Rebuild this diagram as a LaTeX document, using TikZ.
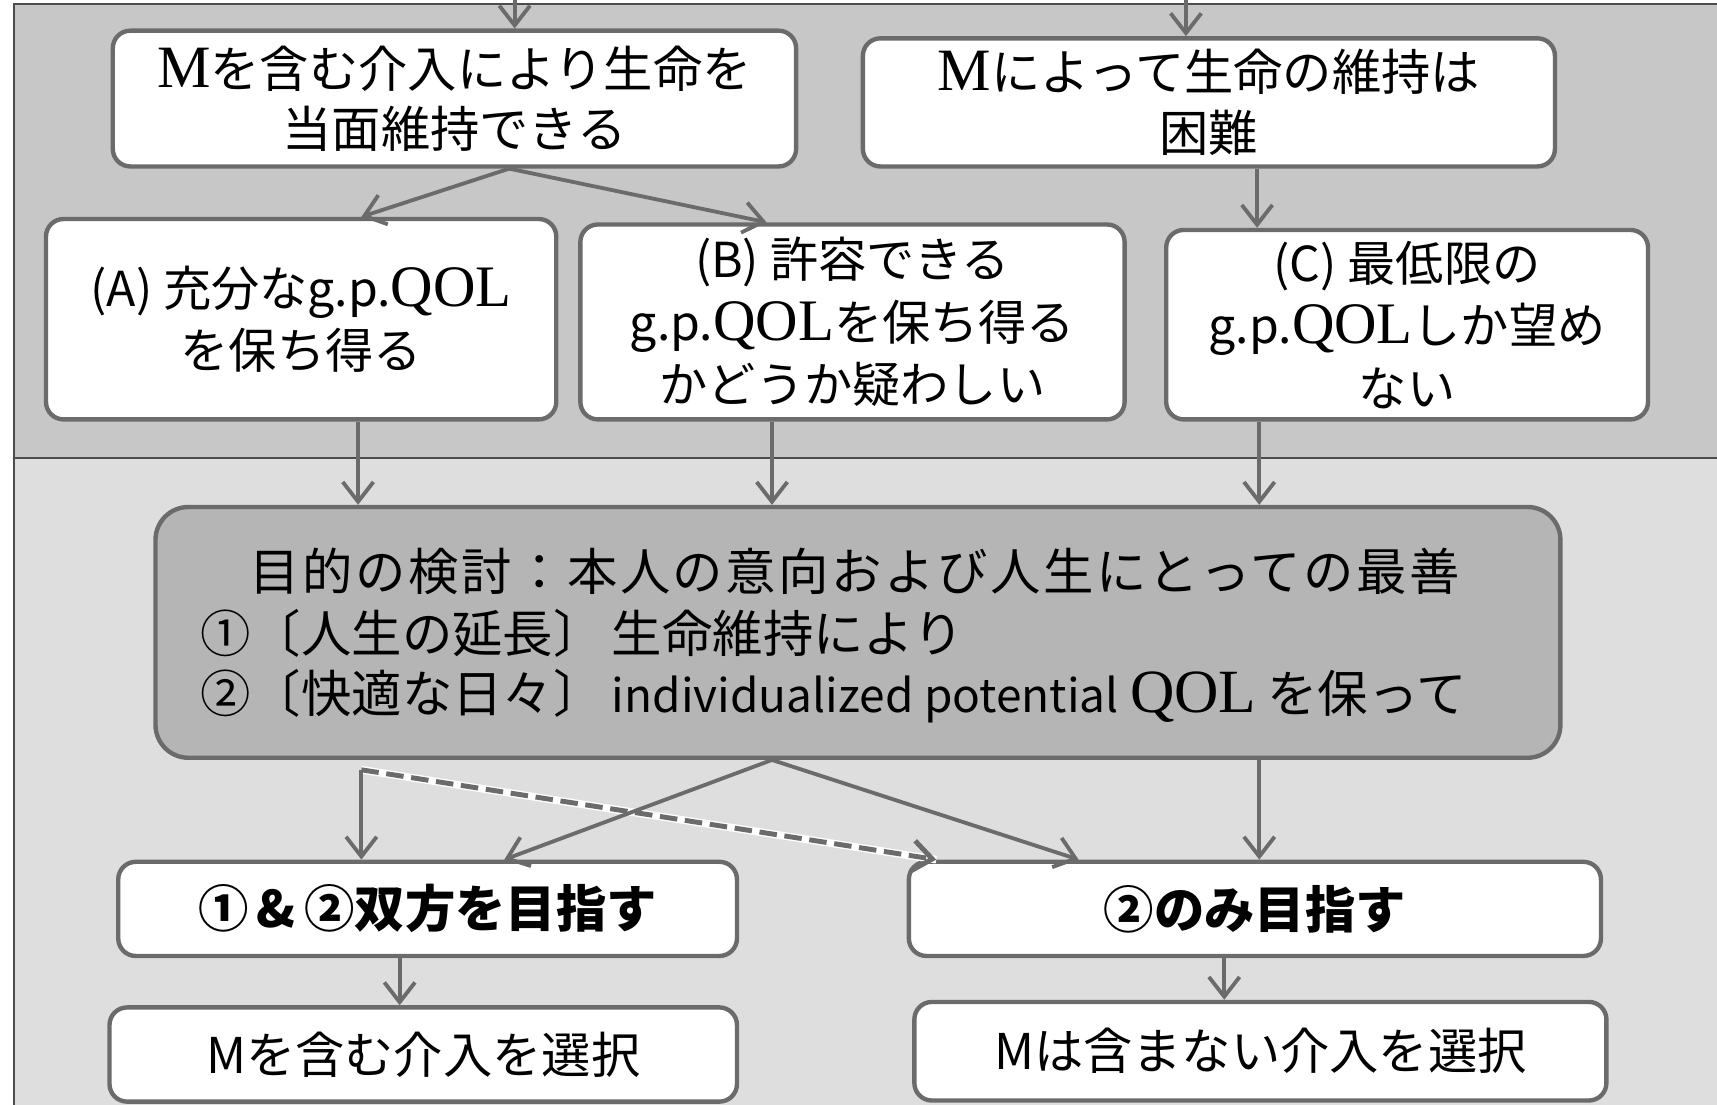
\documentclass[tikz,border=0pt]{standalone}
\usepackage{fontspec}
\setmainfont{Noto Sans CJK JP}
\newfontfamily\serifL[Scale=1.22]{Liberation Serif}
\usetikzlibrary{arrows.meta}
\definecolor{topbg}{gray}{0.78}
\definecolor{lowbg}{gray}{0.87}
\definecolor{bigfill}{gray}{0.71}
\definecolor{edge}{gray}{0.42}
\definecolor{frame}{gray}{0.30}
\begin{document}
\begin{tikzpicture}[x=1pt,y=-1pt,
  box/.style={draw=edge,line width=4pt,rounded corners=16pt,fill=white,inner sep=0pt,align=center},
  bigbox/.style={draw=edge,line width=4pt,rounded corners=30pt,fill=bigfill,inner sep=0pt},
  arr/.style={draw=edge,line width=3.5pt,-{Straight Barb[length=18pt,width=28pt]}},
  f45/.style={font=\fontsize{45}{55}\selectfont},
  f44/.style={font=\fontsize{44}{57}\selectfont},
  fb/.style={font=\fontsize{46}{55}\selectfont\bfseries},
  ftxt/.style={font=\fontsize{46}{55}\selectfont,inner sep=0pt}]
\useasboundingbox (0,0) rectangle (1568,1009);
% panels
\fill[topbg] (13,4) rectangle (1568,418);
\fill[lowbg] (13,418) rectangle (1568,1009);
\draw[frame,line width=2pt] (1568,4) -- (13,4) -- (13,1009);
\draw[frame,line width=2pt] (13,418) -- (1568,418);
% nodes
\node[box,f45,minimum width=624pt,minimum height=124pt] (b1) at (415,90) {{\serifL M}を含む介入により生命を\\当面維持できる};
\node[box,f45,minimum width=632pt,minimum height=117pt] (b2) at (1104,93.5) {{\serifL M}によって生命の維持は\\困難};
\node[box,f44,minimum width=466pt,minimum height=183pt] (a) at (275,291.5) {(A) 充分なg.p.{\serifL QOL}\\を保ち得る};
\node[box,f44,minimum width=497pt,minimum height=178pt] (b) at (778.5,294) {(B) 許容できる\\g.p.{\serifL QOL}を保ち得る\\かどうか疑わしい};
\node[box,f44,minimum width=440pt,minimum height=173pt] (c) at (1285,296.5) {(C) 最低限の\\g.p.{\serifL QOL}しか望め\\ない};
\node[bigbox,minimum width=1283pt,minimum height=229pt] (big) at (783.5,577.5) {};
\node[ftxt,anchor=west] (t1) at (228,522) {\addfontfeatures{LetterSpace=5}目的の検討：本人の意向および人生にとっての最善};
\node[ftxt,anchor=west] (t2) at (183,578) {①〔人生の延長〕\,生命維持により};
\node[ftxt,anchor=west] (t3) at (183,636) {②〔快適な日々〕\,{\fontsize{42}{55}\selectfont individualized potential} {\serifL QOL} を保って};
\node[box,fb,minimum width=565pt,minimum height=86pt] (d) at (390.5,830) {①\,\&\,②双方を目指す};
\node[box,fb,minimum width=632pt,minimum height=86pt] (e) at (1146,830) {②のみ目指す};
\node[box,f45,minimum width=573pt,minimum height=86pt] (f) at (386.5,963) {Mを含む介入を選択};
\node[box,f45,minimum width=632pt,minimum height=90pt] (g) at (1151,960) {Mは含まない介入を選択};
% connectors
\coordinate (in1) at (470,0);
\coordinate (in2) at (1083,0);
\draw[arr] (in1) -- (in1 |- b1.north);
\draw[arr] (in2) -- (in2 |- b2.north);
\draw[arr] ([xshift=50pt]b1.south) -- ([xshift=55pt]a.north);
\draw[arr] ([xshift=50pt]b1.south) -- ([xshift=-78.5pt]b.north);
\coordinate (b2o) at ([xshift=44pt]b2.south);
\draw[arr] (b2o) -- (b2o |- c.north);
\coordinate (ao) at ([xshift=52pt]a.south);
\coordinate (bo) at ([xshift=-73.5pt]b.south);
\coordinate (co) at ([xshift=-135pt]c.south);
\draw[arr] (ao) -- (ao |- big.north);
\draw[arr] (bo) -- (bo |- big.north);
\draw[arr] (co) -- (co |- big.north);
\coordinate (bs) at ([xshift=-78.5pt]big.south);
\coordinate (dl) at (330,703);
\draw[white,line width=7pt] (dl) -- ([xshift=-291pt]e.north);
\draw[arr,line width=4.5pt,dash pattern=on 16pt off 7pt] (dl) -- ([xshift=-291pt]e.north);
\draw[arr] (bs) -- ([xshift=70pt]d.north);
\draw[arr] (bs) -- ([xshift=-161pt]e.north);
\draw[arr] (dl) -- (dl |- d.north);
\coordinate (eo) at ([xshift=366.5pt]big.south);
\draw[arr] (eo) -- (eo |- e.north);
\coordinate (do) at ([xshift=-25.5pt]d.south);
\draw[arr] (do) -- (do |- f.north);
\coordinate (go) at ([xshift=-28pt]e.south);
\draw[arr] (go) -- (go |- g.north);
\end{tikzpicture}
\end{document}
